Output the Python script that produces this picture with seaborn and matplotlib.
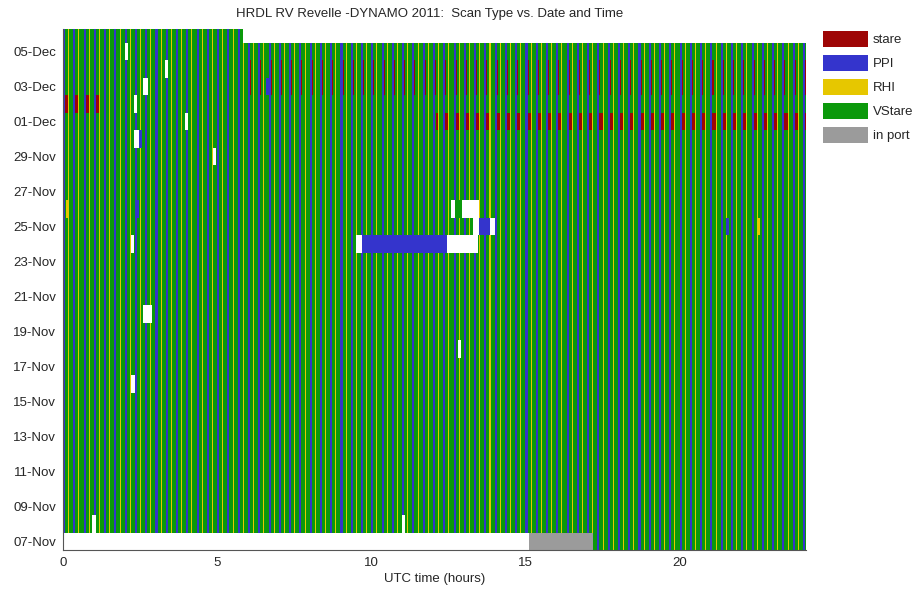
import numpy as np
import pandas as pd
import matplotlib
matplotlib.use('Agg')
import matplotlib.pyplot as plt
from matplotlib.colors import ListedColormap
from matplotlib.patches import Patch
import seaborn as sns

# scan types and their colours (legend order)
scan_types = ['stare', 'PPI', 'RHI', 'VStare', 'in port']
scan_colors = ['#9e0505', '#3434cc', '#e6c700', '#0b990b', '#9b9b9b']

days = pd.date_range('2011-11-07', '2011-12-06', freq='D')

# one 20-minute scan cycle in 1-minute slots (index into scan_types)
cycle = [1, 1, 1, 1, 3, 3, 3, 3, 3, 3, 2, 2, 3, 3, 3, 3, 3, 3, 3, 3]

# first / last data of the cruise (day, hour)
first_data = ('2011-11-07', 15.1)
last_data = ('2011-12-06', 5.85)

# (day, start hour, end hour) blocks that break the regular cycle
port_blocks = [('2011-11-07', 15.1, 17.2)]
gap_blocks = [
    ('2011-11-08', 0.95, 1.07), ('2011-11-08', 11.0, 11.1),
    ('2011-11-16', 2.2, 2.35), ('2011-11-18', 12.8, 12.9),
    ('2011-11-20', 2.6, 2.9), ('2011-11-24', 2.2, 2.3),
    ('2011-11-24', 9.5, 9.7), ('2011-11-24', 12.47, 13.47),
    ('2011-11-25', 13.3, 13.5), ('2011-11-25', 13.85, 14.0),
    ('2011-11-26', 12.6, 13.5), ('2011-11-29', 4.85, 4.95),
    ('2011-11-30', 2.3, 2.45), ('2011-12-01', 3.95, 4.05),
    ('2011-12-02', 2.3, 2.4), ('2011-12-03', 2.6, 2.75),
    ('2011-12-04', 3.3, 3.4), ('2011-12-05', 2.0, 2.1),
]
ppi_blocks = [
    ('2011-11-24', 9.74, 12.47), ('2011-11-25', 13.5, 13.85),
    ('2011-11-25', 21.5, 21.6), ('2011-11-26', 2.35, 2.45),
    ('2011-11-30', 2.45, 2.55), ('2011-12-03', 6.6, 6.75),
]
rhi_blocks = [('2011-11-25', 22.5, 22.6), ('2011-11-26', 0.1, 0.2)]
vstare_blocks = [('2011-11-26', 12.7, 12.95)]
# stretches where a stare scan follows the PPI: (day, start, end, minutes)
stare_runs = [
    ('2011-12-01', 12.1, 24.1, 6), ('2011-12-02', 0.0, 1.35, 6),
    ('2011-12-03', 6.0, 24.1, 2), ('2011-12-04', 6.0, 24.1, 2),
]

n_min = 1446  # 0 .. 24.1 h in minutes
minutes = np.arange(n_min)
phase = minutes % len(cycle)
row_of = {d.strftime('%Y-%m-%d'): i for i, d in enumerate(days)}

grid = np.tile(np.array(cycle, dtype=float)[phase], (len(days), 1))


def span(h0, h1):
    return slice(int(round(h0 * 60)), int(round(h1 * 60)))


for day, h0, h1, w in stare_runs:
    sel = (minutes >= h0 * 60) & (minutes < h1 * 60) & (phase >= 4) & (phase < 4 + w)
    grid[row_of[day], sel] = 0
for blocks, code in [(ppi_blocks, 1), (rhi_blocks, 2), (port_blocks, 4)]:
    for day, h0, h1 in blocks:
        grid[row_of[day], span(h0, h1)] = code
for day, h0, h1 in gap_blocks:
    grid[row_of[day], span(h0, h1)] = np.nan
for day, h0, h1 in vstare_blocks:
    grid[row_of[day], span(h0, h1)] = 3

grid[row_of[first_data[0]], span(0, first_data[1])] = np.nan
grid[row_of[last_data[0]], span(last_data[1], 24.1)] = np.nan

# newest day on top
df = pd.DataFrame(grid[::-1], index=days[::-1])

sns.set_style('white')
plt.rcParams['font.family'] = ['Liberation Sans', 'DejaVu Sans']

fig = plt.figure(figsize=(9.15, 5.92), dpi=100)
ax = fig.add_axes([63 / 915, 1 - 550 / 592, (806 - 63) / 915, (550 - 29) / 592])
sns.heatmap(df, ax=ax, cmap=ListedColormap(scan_colors), vmin=-0.5, vmax=4.5,
            cbar=False, xticklabels=False, yticklabels=False)
ax.set_ylim(len(days), 0.2)

label_days = days[:-1:2]
ax.set_yticks([len(days) - 1 - 2 * i + 0.5 for i in range(len(label_days))])
ax.set_yticklabels([d.strftime('%d-%b') for d in label_days], fontsize=9.5, rotation=0)
ax.set_xticks([0, 300, 600, 900, 1200])
ax.set_xticklabels(['0', '5', '10', '15', '20'], fontsize=9.5, rotation=0)
ax.tick_params(direction='in', length=4, color='#555555', pad=5)

for side in ['left', 'bottom']:
    ax.spines[side].set_visible(True)
    ax.spines[side].set_color('#555555')
    ax.spines[side].set_linewidth(0.8)
for side in ['top', 'right']:
    ax.spines[side].set_visible(False)

ax.set_xlabel('UTC time (hours)', fontsize=9.5, labelpad=3)
ax.set_ylabel('')
fig.text(0.47, 1 - 14 / 592, 'HRDL RV Revelle -DYNAMO 2011:  Scan Type vs. Date and Time',
         ha='center', va='center', fontsize=9.5)

handles = [Patch(facecolor=c, edgecolor='none', label=t) for t, c in zip(scan_types, scan_colors)]
fig.legend(handles=handles, loc='upper left', bbox_to_anchor=(823 / 915, 1 - 31 / 592),
           frameon=False, fontsize=9.5, handlelength=3.4, handleheight=1.5,
           labelspacing=0.6, handletextpad=0.4, borderpad=0, borderaxespad=0)

fig.savefig('out.png', dpi=100)
